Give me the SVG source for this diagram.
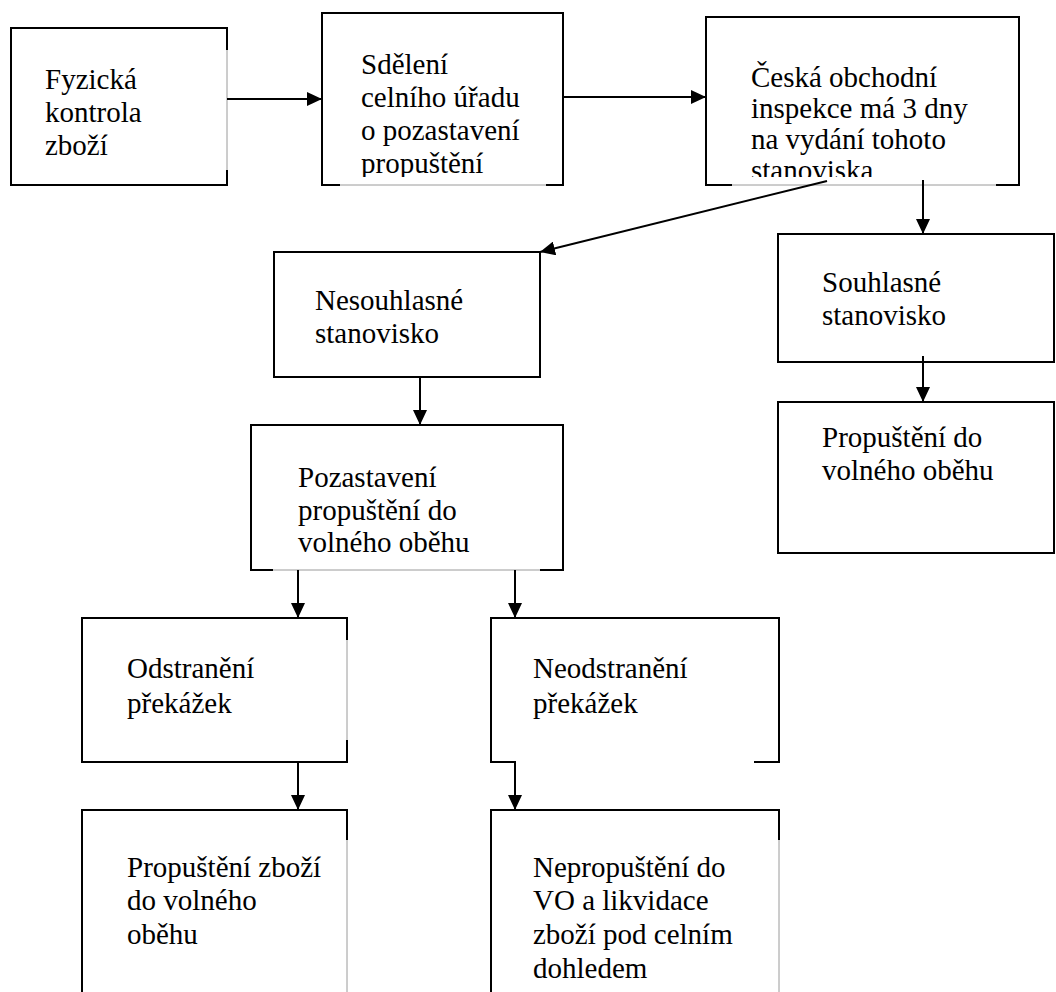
<svg xmlns="http://www.w3.org/2000/svg" width="1056" height="992" viewBox="0 0 1056 992">
<style>
.box{fill:#fff;stroke:#000;stroke-width:2}
.thin{stroke:#9a9a9a;stroke-width:1;fill:none}
.wh{stroke:#fff;stroke-width:3;fill:none}
.c{stroke:#000;stroke-width:2;fill:none;marker-end:url(#ah)}
.t{font-family:'Liberation Serif','Times New Roman',serif;font-size:29px;fill:#000}
</style>
<defs>
<marker id="ah" viewBox="0 0 15 14" refX="15" refY="7" markerWidth="15" markerHeight="14" markerUnits="userSpaceOnUse" orient="auto">
<path d="M0,0 L15,7 L0,14 z" fill="#000"/>
</marker>
<clipPath id="cl2"><rect x="322" y="13" width="241" height="164"/></clipPath>
<clipPath id="cl3"><rect x="706" y="17" width="313" height="160"/></clipPath>
</defs>
<rect width="1056" height="992" fill="#fff"/>

<g id="n1">
<rect class="box" x="11" y="28" width="216" height="157"/>
<path class="wh" d="M227,50 V170"/><path class="thin" d="M227,50 V170"/>
<text class="t" x="45" y="89">Fyzická</text>
<text class="t" x="45" y="122">kontrola</text>
<text class="t" x="45" y="155">zboží</text>
</g>

<g id="n2">
<rect class="box" x="322" y="13" width="241" height="172"/>
<path class="wh" d="M340,185 H546"/><path class="thin" d="M340,185 H546"/>
<g clip-path="url(#cl2)">
<text class="t" x="361" y="74">Sdělení</text>
<text class="t" x="361" y="107">celního úřadu</text>
<text class="t" x="361" y="140">o pozastavení</text>
<text class="t" x="361" y="173">propuštění</text>
</g>
</g>

<g id="n3">
<rect class="box" x="706" y="17" width="313" height="168"/>
<path class="wh" d="M732,185 H996"/><path class="thin" d="M732,185 H996"/>
<g clip-path="url(#cl3)">
<text class="t" x="751" y="87">Česká obchodní</text>
<text class="t" x="751" y="118">inspekce má 3 dny</text>
<text class="t" x="751" y="149">na vydání tohoto</text>
<text class="t" x="751" y="180">stanoviska</text>
</g>
</g>

<g id="n4">
<rect class="box" x="274" y="252" width="266" height="125"/>
<text class="t" x="315" y="310">Nesouhlasné</text>
<text class="t" x="315" y="343">stanovisko</text>
</g>

<g id="n5">
<rect class="box" x="778" y="234" width="276" height="128"/>
<text class="t" x="822" y="292">Souhlasné</text>
<text class="t" x="822" y="325">stanovisko</text>
</g>

<g id="n6">
<rect class="box" x="778" y="402" width="276" height="151"/>
<text class="t" x="822" y="447">Propuštění do</text>
<text class="t" x="822" y="480">volného oběhu</text>
</g>

<g id="n7">
<rect class="box" x="251" y="425" width="312" height="145"/>
<path class="wh" d="M273,570 H540"/><path class="thin" d="M273,570 H540"/>
<text class="t" x="298" y="487">Pozastavení</text>
<text class="t" x="298" y="520">propuštění do</text>
<text class="t" x="298" y="552">volného oběhu</text>
</g>

<g id="n8">
<rect class="box" x="82" y="618" width="265" height="144"/>
<path class="wh" d="M347,640 V740"/><path class="thin" d="M347,640 V740"/>
<text class="t" x="127" y="678">Odstranění</text>
<text class="t" x="127" y="713">překážek</text>
</g>

<g id="n9">
<rect class="box" x="491" y="618" width="288" height="144"/>
<path class="wh" d="M516,762 H754"/>
<text class="t" x="533" y="678">Neodstranění</text>
<text class="t" x="533" y="713">překážek</text>
</g>

<g id="n10">
<rect class="box" x="82" y="810" width="265" height="200"/>
<path class="wh" d="M347,840 V992"/><path class="thin" d="M347,840 V992"/>
<text class="t" x="127" y="877">Propuštění zboží</text>
<text class="t" x="127" y="910">do volného</text>
<text class="t" x="127" y="944">oběhu</text>
</g>

<g id="n11">
<rect class="box" x="491" y="810" width="288" height="200"/>
<path class="wh" d="M779,840 V992"/><path class="thin" d="M779,840 V992"/>
<text class="t" x="533" y="877">Nepropuštění do</text>
<text class="t" x="533" y="910">VO a likvidace</text>
<text class="t" x="533" y="944">zboží pod celním</text>
<text class="t" x="533" y="978">dohledem</text>
</g>

<g id="connectors">
<line class="c" x1="227" y1="99" x2="322" y2="99"/>
<line class="c" x1="563" y1="97" x2="706" y2="97"/>
<line class="c" x1="923" y1="180" x2="923" y2="234"/>
<line class="c" x1="827" y1="181" x2="540" y2="252"/>
<line class="c" x1="923" y1="356" x2="923" y2="402"/>
<line class="c" x1="420" y1="377" x2="420" y2="425"/>
<line class="c" x1="298" y1="570" x2="298" y2="618"/>
<line class="c" x1="515" y1="570" x2="515" y2="618"/>
<line class="c" x1="298" y1="762" x2="298" y2="810"/>
<line class="c" x1="515" y1="762" x2="515" y2="810"/>
</g>
</svg>
